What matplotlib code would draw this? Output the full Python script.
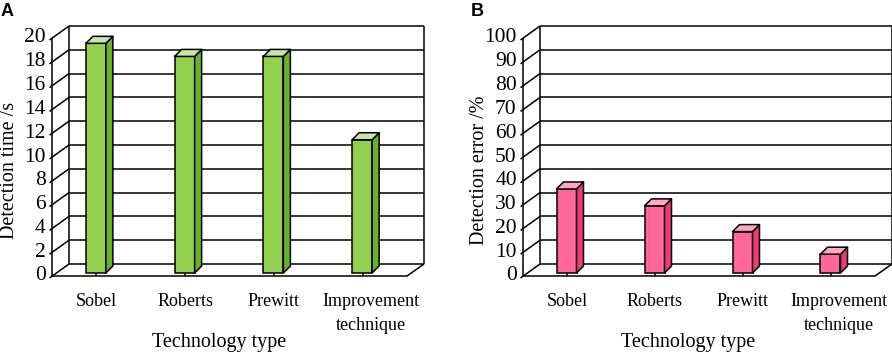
import numpy as np
import matplotlib
matplotlib.use("Agg")
import matplotlib.pyplot as plt
from matplotlib.patches import Polygon, Rectangle

plt.rcParams['font.family'] = ['Liberation Serif', 'DejaVu Serif']

# data
methods = ['Sobel', 'Roberts', 'Prewitt', 'Improvement\ntechnique']
time_s = [19.3, 18.2, 18.2, 11.2]
error_pct = [35.3, 28.2, 17.4, 7.9]
time_ticks = list(range(0, 21, 2))
error_ticks = list(range(0, 101, 10))

W, H = 892, 353
fig = plt.figure(figsize=(W / 100, H / 100), dpi=100)

Y0, Y1 = 276, 38          # pixel rows of value 0 and top value on front plane
DEPTH = (17, 12)          # wall depth in pixels
BAR_LIFT = 3              # bar base sits a little behind the front edge
BAR_W = 20
BAR_D = (7, 7)
LW = 1.1
PT = 0.72                 # points per pixel at 100 dpi


def panel(x0, x1, values, ticks, ylabel, ylab_x, cfront, cside, ctop):
    ax = fig.add_axes([x0 / W, (H - Y0) / H, (x1 - x0) / W, (Y0 - Y1) / H])
    n = len(values)
    ymax = ticks[-1]
    ax.set_xlim(-0.5, n - 0.5)
    ax.set_ylim(0, ymax)
    ax.axis('off')
    sx = (x1 - x0) / n          # px per category
    sy = (Y0 - Y1) / ymax       # px per value unit
    ddx, ddy = DEPTH[0] / sx, DEPTH[1] / sy
    left, right = -0.5, n - 0.5
    kw = dict(color='black', lw=LW, clip_on=False, solid_capstyle='butt')

    # back wall, side wall and value labels
    for v in ticks:
        ax.plot([left + ddx, right + ddx], [v + ddy, v + ddy], zorder=1, **kw)
        ax.plot([left - 2.5 / sx, left + ddx], [v - 2 / sy, v + ddy], zorder=1, **kw)
        ax.annotate(str(v), (left, v), xytext=(-4.5, 0), textcoords='offset points',
                    ha='right', va='center', fontsize=15.5, annotation_clip=False)
    ax.plot([left + ddx, left + ddx], [ddy, ymax + ddy], zorder=1, **kw)
    ax.plot([right + ddx, right + ddx], [ddy, ymax + ddy], zorder=1, **kw)
    ax.plot([left, left], [0, ymax], zorder=1, **kw)
    # floor
    ax.plot([left, right, right + ddx], [0, 0, ddy], zorder=1, **kw)

    # bars
    bw = BAR_W / sx
    bdx, bdy = BAR_D[0] / sx, BAR_D[1] / sy
    b0 = BAR_LIFT / sy
    for i, v in enumerate(values):
        xl = i - 0.5 / sx - bw / 2
        xr = xl + bw
        top = b0 + v
        ax.add_patch(Rectangle((xl, b0), bw, v, fc=cfront, ec='black', lw=LW,
                               zorder=3, clip_on=False))
        ax.add_patch(Polygon([(xr, b0), (xr + bdx, b0 + bdy), (xr + bdx, top + bdy), (xr, top)],
                             closed=True, fc=cside, ec='black', lw=LW, zorder=3,
                             clip_on=False, joinstyle='round'))
        ax.add_patch(Polygon([(xl, top), (xl + bdx, top + bdy), (xr + bdx, top + bdy), (xr, top)],
                             closed=True, fc=ctop, ec='black', lw=LW, zorder=3,
                             clip_on=False, joinstyle='round'))
        ax.plot([i, i], [0, b0], zorder=2, **kw)
        lab_dx = 6 if '\n' in methods[i] else 0
        ax.annotate(methods[i], (i, 0), xytext=(lab_dx, -12), textcoords='offset points',
                    ha='center', va='top', fontsize=13, linespacing=1.55,
                    annotation_clip=False)

    ax.annotate('Technology type', (0.47, 0), xycoords='axes fraction',
                xytext=(0, -(347 - Y0) * PT), textcoords='offset points',
                ha='center', va='baseline', fontsize=14.5, annotation_clip=False)
    fig.text(ylab_x / W, 1 - 170 / H, ylabel, rotation=90, ha='center', va='center',
             fontsize=14.5)
    return ax


panel(52, 407, time_s, time_ticks, 'Detection time /s', 10,
      '#92D050', '#6BB02C', '#C8E6A4')
panel(523, 875, error_pct, error_ticks, 'Detection error /%', 479,
      '#FF6699', '#F03A73', '#FFA6C4')

fig.text(1 / W, 1 - 3 / H, 'A', family='Liberation Sans', weight='bold', fontsize=13,
         ha='left', va='top')
fig.text(471 / W, 1 - 3 / H, 'B', family='Liberation Sans', weight='bold', fontsize=13,
         ha='left', va='top')

fig.savefig('out.png', dpi=100, facecolor='white')
